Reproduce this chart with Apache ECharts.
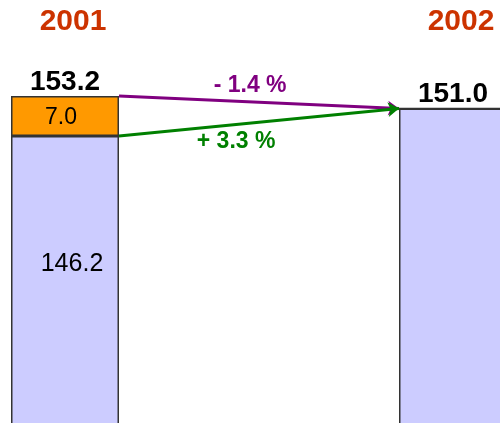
<!DOCTYPE html>
<html>
<head>
<meta charset="utf-8">
<script src="https://cdn.jsdelivr.net/npm/echarts@6/dist/echarts.min.js"></script>
<style>
html, body { margin: 0; padding: 0; background: #fff; }
#chart { width: 500px; height: 423px; }
</style>
</head>
<body>
<div id="chart"></div>
<script>
// years over the two bars
var years = ['2001', '2002'];
// lower (lavender) part of each bar
var baseValues = [146.2, 151.0];
// orange part stacked on top, 2002 has none
var addedValues = [7.0, 0];
// text next to the two arrows
var changeLabels = ['- 1.4 %', '+ 3.3 %'];

var totals = baseValues.map(function (v, i) {
    return +(v + addedValues[i]).toFixed(1);
});

var FONT = '"Liberation Sans", Arial, sans-serif';
var BAR_W = 108;
var GRID_W = 500 - 65 - 47;
var edge = (BAR_W / 2) / GRID_W; // half a bar, in units of the helper axis

var chart = echarts.init(document.getElementById('chart'));
var opt = {
    animation: false,
    // bar centres sit on the grid edges, the 2002 bar runs off the page
    grid: { left: 65, right: 47, top: 40, bottom: 0 },
    xAxis: [
        {
            type: 'category',
            data: years,
            position: 'top',
            boundaryGap: false,
            axisLine: { show: false },
            axisTick: { show: false },
            axisLabel: {
                margin: 3,
                padding: [0, 0, 0, 16],
                color: '#CC3300',
                fontSize: 30,
                fontWeight: 'bold',
                fontFamily: FONT
            }
        },
        {
            // helper axis so the arrows can start/end at bar edges
            type: 'value',
            min: 0,
            max: 1,
            show: false
        }
    ],
    yAxis: {
        type: 'value',
        min: 96,
        max: 163,
        show: false
    },
    series: [
        {
            type: 'bar',
            stack: 'a',
            clip: false,
            barWidth: BAR_W,
            data: baseValues,
            itemStyle: { color: '#CCCCFF', borderColor: '#333', borderWidth: 1.5 },
            label: {
                show: true,
                position: 'insideTop',
                distance: 116,
                offset: [7, 0],
                color: '#000',
                fontSize: 25,
                fontFamily: FONT,
                formatter: function (p) {
                    // only the 2001 bar carries its inner value
                    return p.dataIndex === 0 ? baseValues[0].toFixed(1) : '';
                }
            }
        },
        {
            type: 'bar',
            stack: 'a',
            clip: false,
            barWidth: BAR_W,
            data: addedValues,
            itemStyle: { color: '#FF9900', borderColor: '#333', borderWidth: 1.5 },
            label: {
                show: true,
                position: 'inside',
                offset: [-4, 2],
                color: '#000',
                fontSize: 23,
                fontFamily: FONT,
                formatter: function (p) {
                    var v = addedValues[p.dataIndex];
                    return v ? v.toFixed(1) : '';
                }
            }
        },
        {
            // invisible bar for the totals on top
            type: 'bar',
            clip: false,
            barWidth: BAR_W,
            barGap: '-100%',
            z: 5,
            data: totals,
            itemStyle: { color: 'rgba(0,0,0,0)', borderWidth: 0 },
            label: {
                show: true,
                position: 'top',
                distance: 0,
                color: '#000',
                fontSize: 28,
                fontWeight: 'bold',
                fontFamily: FONT,
                formatter: function (p) { return totals[p.dataIndex].toFixed(1); }
            }
        },
        {
            // arrows and change labels
            type: 'line',
            xAxisIndex: 1,
            data: [],
            markLine: {
                silent: true,
                symbol: ['none', 'arrow'],
                symbolSize: 11,
                label: { show: false },
                lineStyle: { width: 3, type: 'solid' },
                data: [
                    [
                        { coord: [edge, totals[0]], lineStyle: { color: '#800080' }, itemStyle: { color: '#800080' } },
                        { coord: [1 - edge, totals[1]] }
                    ],
                    [
                        { coord: [edge, baseValues[0]], lineStyle: { color: '#008000' }, itemStyle: { color: '#008000' } },
                        { coord: [1 - edge, totals[1]] }
                    ]
                ]
            },
            markPoint: {
                silent: true,
                symbol: 'circle',
                symbolSize: 0,
                label: {
                    show: true,
                    position: 'inside',
                    fontSize: 23,
                    fontWeight: 'bold',
                    fontFamily: FONT
                },
                data: [
                    { coord: [0.477, 155.0], label: { color: '#800080', formatter: changeLabels[0] } },
                    { coord: [0.441, 145.3], label: { color: '#008000', formatter: changeLabels[1] } }
                ]
            }
        }
    ]
};
chart.setOption(opt);
window.addEventListener('resize', function () {
    chart.resize();
});
</script>
</body>
</html>
